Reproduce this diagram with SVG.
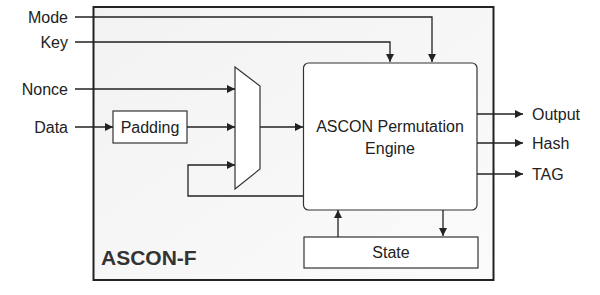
<svg xmlns="http://www.w3.org/2000/svg" width="600" height="295" viewBox="0 0 600 295">
<defs>
<marker id="arr" viewBox="0 0 10 10" refX="10" refY="5" markerWidth="8" markerHeight="8" markerUnits="userSpaceOnUse" orient="auto">
<path d="M0,0 L10,5 L0,10 z" fill="#222"/>
</marker>
<linearGradient id="bg" x1="0" y1="0" x2="1" y2="1">
<stop offset="0" stop-color="#f2f2f2"/>
<stop offset="1" stop-color="#fbfbfb"/>
</linearGradient>
</defs>
<style>
.lbl{font-family:"Liberation Sans",Arial,sans-serif;font-size:16px;fill:#222}
.box{fill:#fff;stroke:#333;stroke-width:1.2}
.wire{fill:none;stroke:#222;stroke-width:1.3}
</style>
<rect width="600" height="295" fill="#fff"/>
<g id="ascon-f">
<rect x="93.5" y="7" width="400" height="273" fill="url(#bg)" stroke="#222" stroke-width="2"/>
<text x="101" y="265" style="font-family:'Liberation Sans',Arial,sans-serif;font-size:21px;font-weight:bold;fill:#333">ASCON-F</text>
</g>
<g id="inputs">
<text class="lbl" x="68" y="23" text-anchor="end">Mode</text>
<text class="lbl" x="68" y="48" text-anchor="end">Key</text>
<text class="lbl" x="68" y="95" text-anchor="end">Nonce</text>
<text class="lbl" x="68" y="133" text-anchor="end">Data</text>
</g>
<g id="padding">
<rect class="box" x="113" y="111" width="74" height="32"/>
<text class="lbl" x="150" y="133" text-anchor="middle">Padding</text>
</g>
<g id="mux">
<polygon points="235,67 260,86 260,169 235,189" fill="#fff" stroke="#333" stroke-width="1.2"/>
</g>
<g id="engine">
<rect class="box" x="303.5" y="63" width="173.5" height="147" rx="5"/>
<text class="lbl" x="390" y="132" text-anchor="middle">ASCON Permutation</text>
<text class="lbl" x="390" y="154" text-anchor="middle">Engine</text>
</g>
<g id="state">
<rect class="box" x="304" y="237" width="174" height="31"/>
<text class="lbl" x="391" y="258" text-anchor="middle">State</text>
</g>
<g id="outputs">
<text class="lbl" x="532" y="120">Output</text>
<text class="lbl" x="532" y="149">Hash</text>
<text class="lbl" x="532" y="180">TAG</text>
</g>
<g id="connectors">
<polyline class="wire" points="75,17 432,17 432,62" marker-end="url(#arr)"/>
<polyline class="wire" points="75,42 390,42 390,62" marker-end="url(#arr)"/>
<line class="wire" x1="75" y1="89" x2="235" y2="89" marker-end="url(#arr)"/>
<line class="wire" x1="75" y1="127" x2="113" y2="127" marker-end="url(#arr)"/>
<line class="wire" x1="187" y1="127" x2="235" y2="127" marker-end="url(#arr)"/>
<line class="wire" x1="260" y1="127" x2="303" y2="127" marker-end="url(#arr)"/>
<polyline class="wire" points="303,196 188,196 188,165 235,165" marker-end="url(#arr)"/>
<line class="wire" x1="477" y1="114" x2="523" y2="114" marker-end="url(#arr)"/>
<line class="wire" x1="477" y1="143" x2="523" y2="143" marker-end="url(#arr)"/>
<line class="wire" x1="477" y1="174" x2="523" y2="174" marker-end="url(#arr)"/>
<line class="wire" x1="338" y1="237" x2="338" y2="210" marker-end="url(#arr)"/>
<line class="wire" x1="443" y1="210" x2="443" y2="236" marker-end="url(#arr)"/>
</g>
</svg>
